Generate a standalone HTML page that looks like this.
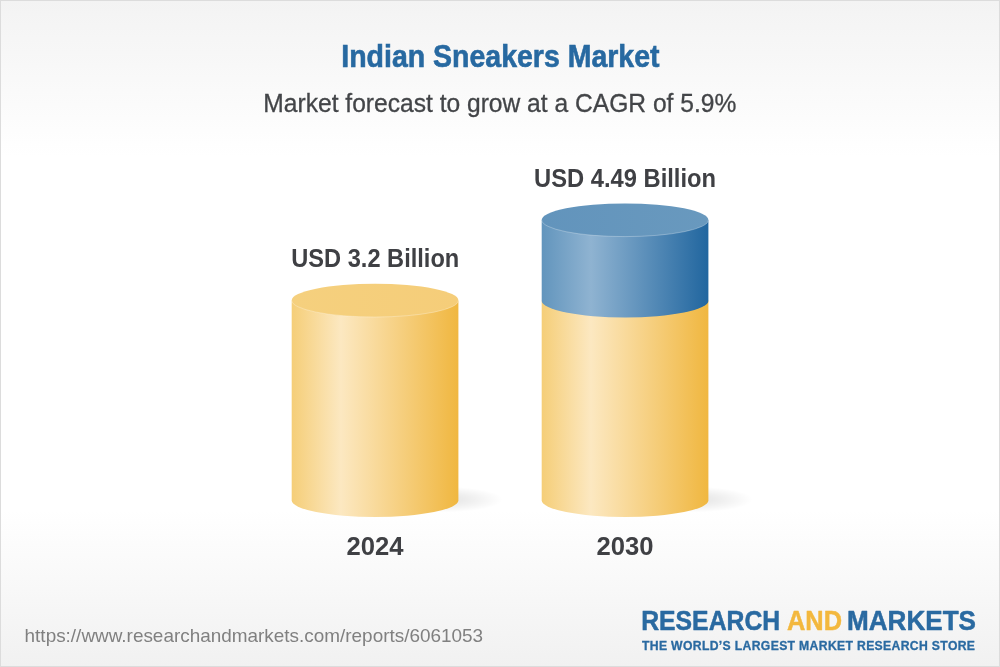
<!DOCTYPE html>
<html>
<head>
<meta charset="utf-8">
<title>Indian Sneakers Market</title>
<style>
html,body{margin:0;padding:0;background:#fff;}
body{width:1000px;height:667px;overflow:hidden;font-family:"Liberation Sans",sans-serif;}
svg{display:block;}
text{font-family:"Liberation Sans",sans-serif;}
.b{font-weight:bold;}
</style>
</head>
<body>
<svg width="1000" height="667" viewBox="0 0 1000 667">
<defs>
<linearGradient id="bg" x1="0" y1="0" x2="0" y2="1">
<stop offset="0" stop-color="#f3f3f3"/>
<stop offset="0.235" stop-color="#ffffff"/>
<stop offset="0.765" stop-color="#ffffff"/>
<stop offset="1" stop-color="#f1f1f1"/>
</linearGradient>
<linearGradient id="yb" x1="0" y1="0" x2="1" y2="0">
<stop offset="0" stop-color="#f5ce78"/>
<stop offset="0.295" stop-color="#fce8c1"/>
<stop offset="1" stop-color="#f0b740"/>
</linearGradient>
<linearGradient id="bb" x1="0" y1="0" x2="1" y2="0">
<stop offset="0" stop-color="#6295bd"/>
<stop offset="0.295" stop-color="#8fb3d1"/>
<stop offset="1" stop-color="#21669f"/>
</linearGradient>
<radialGradient id="sh" cx="0.5" cy="0.5" r="0.5">
<stop offset="0" stop-color="#000" stop-opacity="0.11"/>
<stop offset="0.5" stop-color="#000" stop-opacity="0.06"/>
<stop offset="1" stop-color="#000" stop-opacity="0"/>
</radialGradient>
<linearGradient id="yt" x1="0" y1="0" x2="1" y2="0">
<stop offset="0" stop-color="#f5d07e"/>
<stop offset="1" stop-color="#f5cd79"/>
</linearGradient>
<linearGradient id="bt" x1="0" y1="0" x2="1" y2="0">
<stop offset="0" stop-color="#6294bc"/>
<stop offset="1" stop-color="#6999be"/>
</linearGradient>
</defs>
<rect x="0" y="0" width="1000" height="667" fill="url(#bg)"/>
<rect x="0.5" y="0.5" width="999" height="666" fill="none" stroke="#dcdcdc" stroke-width="1"/>

<!-- shadows -->
<ellipse cx="443" cy="499.5" rx="60" ry="13" fill="url(#sh)"/>
<ellipse cx="693" cy="499.5" rx="60" ry="13" fill="url(#sh)"/>

<!-- cylinder 1 -->
<path d="M291.7 300.7 L291.7 500.3 A83.35 16.6 0 0 0 458.4 500.3 L458.4 300.7 Z" fill="url(#yb)"/>
<ellipse cx="375.05" cy="300.4" rx="83.35" ry="16.6" fill="url(#yt)"/>
<path d="M291.7 300.4 A83.35 16.6 0 0 0 458.4 300.4" fill="none" stroke="#fff" stroke-opacity="0.35" stroke-width="0.8"/>

<!-- cylinder 2 -->
<path d="M541.7 300.7 L541.7 500.3 A83.35 16.6 0 0 0 708.4 500.3 L708.4 300.7 Z" fill="url(#yb)"/>
<path d="M541.7 220 L541.7 300.7 A83.35 16.7 0 0 0 708.4 300.7 L708.4 220 Z" fill="url(#bb)"/>
<ellipse cx="625.05" cy="220" rx="83.35" ry="16.6" fill="url(#bt)"/>
<path d="M541.7 220 A83.35 16.6 0 0 0 708.4 220" fill="none" stroke="#fff" stroke-opacity="0.35" stroke-width="0.8"/>

<text class="b" x="500.4" y="66.6" text-anchor="middle" font-size="32" fill="#2769a1" stroke="#2769a1" stroke-width="0.6" textLength="318.3" lengthAdjust="spacingAndGlyphs">Indian Sneakers Market</text>
<text x="499.8" y="112" text-anchor="middle" font-size="26" fill="#434548" stroke="#434548" stroke-width="0.3" textLength="473" lengthAdjust="spacingAndGlyphs">Market forecast to grow at a CAGR of 5.9%</text>

<text class="b" x="375.3" y="266.8" text-anchor="middle" font-size="25.5" fill="#3f4044" textLength="168" lengthAdjust="spacingAndGlyphs">USD 3.2 Billion</text>
<text class="b" x="625" y="186.8" text-anchor="middle" font-size="25.5" fill="#3f4044" textLength="182" lengthAdjust="spacingAndGlyphs">USD 4.49 Billion</text>
<text class="b" x="375" y="554.8" text-anchor="middle" font-size="25.5" fill="#3f4044" textLength="57" lengthAdjust="spacingAndGlyphs">2024</text>
<text class="b" x="625" y="554.8" text-anchor="middle" font-size="25.5" fill="#3f4044" textLength="57" lengthAdjust="spacingAndGlyphs">2030</text>

<text x="24.6" y="641.8" font-size="19" fill="#808080" textLength="458.5" lengthAdjust="spacingAndGlyphs">https://www.researchandmarkets.com/reports/6061053</text>

<g font-weight="bold" font-size="27" stroke-width="0.5" stroke-linejoin="round">
<text x="641.2" y="629.5" fill="#2a6aa1" stroke="#2a6aa1" textLength="139" lengthAdjust="spacingAndGlyphs">RESEARCH</text>
<text x="787" y="629.5" fill="#f3b83e" stroke="#f3b83e" textLength="55" lengthAdjust="spacingAndGlyphs">AND</text>
<text x="847" y="629.5" fill="#2a6aa1" stroke="#2a6aa1" textLength="129" lengthAdjust="spacingAndGlyphs">MARKETS</text>
</g>
<text class="b" x="642" y="649.8" font-size="12.2" fill="#2a6aa1" stroke="#2a6aa1" stroke-width="0.3" textLength="333" lengthAdjust="spacing">THE WORLD’S LARGEST MARKET RESEARCH STORE</text>
</svg>
</body>
</html>
